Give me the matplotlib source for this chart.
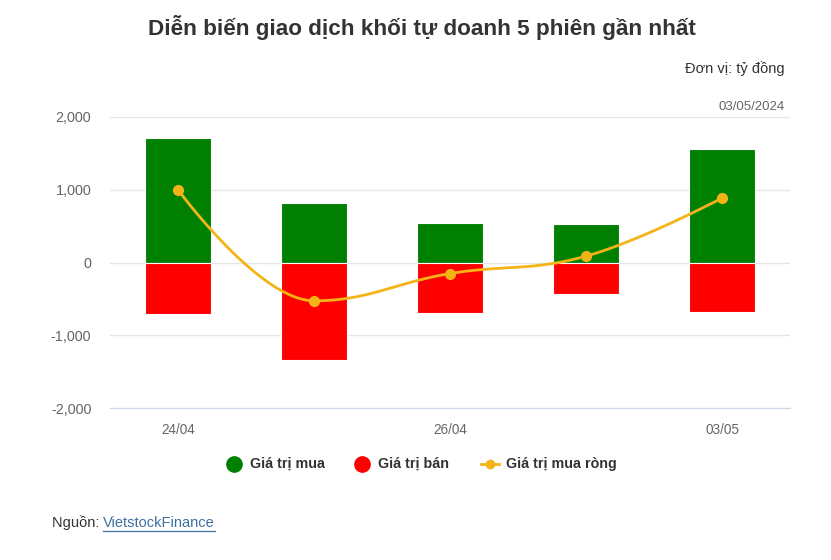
import matplotlib.pyplot as plt
from matplotlib.lines import Line2D
import numpy as np

plt.rcParams['font.family'] = ['Liberation Sans', 'DejaVu Sans']

# data (tỷ đồng)
dates = ['24/04', '25/04', '26/04', '02/05', '03/05']
buy = [1711, 817, 541, 523, 1560]
sell = [-711, -1344, -693, -436, -674]
net = [1000, -527, -152, 87, 886]
shown_ticks = ['24/04', '26/04', '03/05']

GREEN = '#008000'
RED = '#ff0000'
GOLD = '#f4b418'


def spline_path(xs, ys, steps=30):
    # highcharts-like spline: bezier segments with smoothing 1.5
    n = len(xs)
    sm, den = 1.5, 2.5
    lc, rc = [], []
    for i in range(n):
        x, y = xs[i], ys[i]
        if i == 0 or i == n - 1:
            lc.append((x, y)); rc.append((x, y)); continue
        lx, ly = xs[i - 1], ys[i - 1]
        nx, ny = xs[i + 1], ys[i + 1]
        lcx = (sm * x + lx) / den; lcy = (sm * y + ly) / den
        rcx = (sm * x + nx) / den; rcy = (sm * y + ny) / den
        corr = ((rcy - lcy) * (rcx - x)) / (rcx - lcx) + y - rcy
        lcy += corr; rcy += corr
        if lcy > ly and lcy > y:
            lcy = max(ly, y); rcy = 2 * y - lcy
        elif lcy < ly and lcy < y:
            lcy = min(ly, y); rcy = 2 * y - lcy
        if rcy > ny and rcy > y:
            rcy = max(ny, y); lcy = 2 * y - rcy
        elif rcy < ny and rcy < y:
            rcy = min(ny, y); lcy = 2 * y - rcy
        lc.append((lcx, lcy)); rc.append((rcx, rcy))
    px, py = [], []
    t = np.linspace(0, 1, steps)
    for i in range(n - 1):
        p0 = np.array([xs[i], ys[i]]); p1 = np.array(rc[i])
        p2 = np.array(lc[i + 1]); p3 = np.array([xs[i + 1], ys[i + 1]])
        pts = ((1 - t)[:, None] ** 3 * p0 + 3 * ((1 - t) ** 2 * t)[:, None] * p1
               + 3 * ((1 - t) * t ** 2)[:, None] * p2 + (t ** 3)[:, None] * p3)
        px.extend(pts[:, 0]); py.extend(pts[:, 1])
    return px, py


fig = plt.figure(figsize=(8.31, 5.6), dpi=100)
ax = fig.add_axes([110 / 831, 152 / 560, 680 / 831, 291 / 560])

x = np.arange(len(dates))
ax.bar(x, buy, width=0.48, color=GREEN, edgecolor='white', linewidth=0.8, zorder=2)
ax.bar(x, sell, width=0.48, color=RED, edgecolor='white', linewidth=0.8, zorder=2)
sx, sy = spline_path(list(x), net)
ax.plot(sx, sy, color=GOLD, lw=2, zorder=3)
ax.plot(x, net, 'o', color=GOLD, ms=7, zorder=4)

ax.set_xlim(-0.5, 4.5)
ax.set_ylim(-2000, 2000)
ax.set_yticks([-2000, -1000, 0, 1000, 2000])
ax.set_yticklabels([f'{v:,}' for v in [-2000, -1000, 0, 1000, 2000]])
ax.set_xticks([0, 2, 4])
ax.set_xticklabels(shown_ticks)
ax.tick_params(axis='y', length=0, labelsize=10.4, colors='#666666', pad=13.5)
ax.tick_params(axis='x', length=0, labelsize=9.8, colors='#666666', pad=11)
ax.grid(axis='y', color='#e6e6e6', lw=1, zorder=0)
for s in ['top', 'right', 'left']:
    ax.spines[s].set_visible(False)
ax.spines['bottom'].set_color('#ccd6eb')

fig.text(422 / 831, 1 - 27 / 560, 'Diễn biến giao dịch khối tự doanh 5 phiên gần nhất',
         ha='center', va='center', fontsize=16.2, fontweight='bold', color='#333333')
fig.text(785 / 831, 1 - 69 / 560, 'Đơn vị: tỷ đồng', ha='right', va='center',
         fontsize=10.5, color='#333333')
fig.text(785 / 831, 1 - 107 / 560, '03/05/2024', ha='right', va='center',
         fontsize=9.5, color='#666666')

# legend
ly = 1 - 464 / 560
legend_items = [(234, 'Giá trị mua', GREEN, 'o'), (362, 'Giá trị bán', RED, 'o'),
                (490, 'Giá trị mua ròng', GOLD, 'line')]
for px_, label, col, kind in legend_items:
    xf = px_ / 831
    if kind == 'o':
        fig.add_artist(Line2D([xf], [ly], marker='o', ms=11, color=col,
                              transform=fig.transFigure))
    else:
        fig.add_artist(Line2D([xf - 9 / 831, xf + 9 / 831], [ly, ly], color=col, lw=2,
                              transform=fig.transFigure))
        fig.add_artist(Line2D([xf], [ly], marker='o', ms=6, color=col,
                              transform=fig.transFigure))
    fig.text(xf + 16 / 831, ly, label, ha='left', va='center', fontsize=10.3,
             fontweight='bold', color='#333333')

fig.text(52 / 831, 1 - 523 / 560, 'Nguồn: ', ha='left', va='center', fontsize=10.5,
         color='#333333')
fig.text(103 / 831, 1 - 523 / 560, 'VietstockFinance', ha='left', va='center',
         fontsize=10.5, color='#3f6fa0')
fig.add_artist(Line2D([103 / 831, 215 / 831], [1 - 531 / 560, 1 - 531 / 560],
                      color='#3f6fa0', lw=0.9, transform=fig.transFigure))

fig.savefig('out.png', dpi=100, facecolor='white')
